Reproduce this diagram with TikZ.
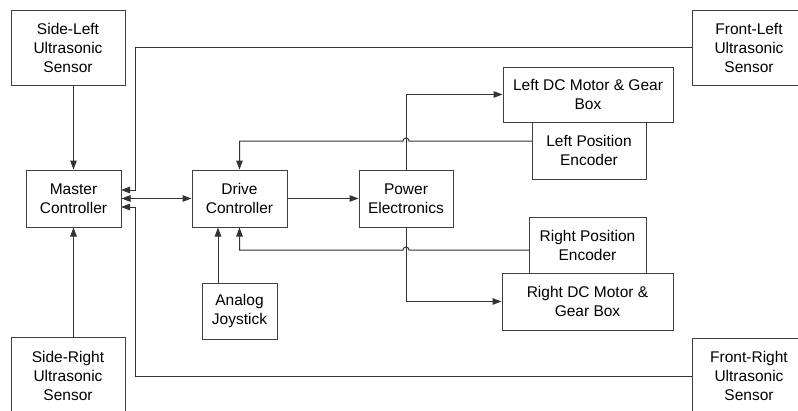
\documentclass[tikz,border=0pt]{standalone}
\usepackage{fontspec}
\setmainfont{Liberation Sans}
\usetikzlibrary{arrows.meta}
\begin{document}
\begin{tikzpicture}[x=1pt,y=1pt,
  blk/.style={draw=black!75, line width=1pt, align=center, inner sep=0pt,
    font=\fontsize{15.5}{19}\selectfont},
  conn/.style={draw=black!80, line width=1pt},
  arr/.style={conn, -{Triangle[length=9pt,width=6.5pt]}},
  arrb/.style={conn, {Triangle[length=9pt,width=6.5pt]}-{Triangle[length=9pt,width=6.5pt]}}]
\useasboundingbox (0,0) rectangle (798,-410);
\clip (0,0) rectangle (798,-410);
\fill[white] (0,0) rectangle (798,-410);

\node[blk, minimum width=114pt, minimum height=75pt] (SL) at (68,-47.5) {Side-Left\\Ultrasonic\\Sensor};
\node[blk, minimum width=95pt, minimum height=57pt] (MC) at (73.5,-198.5) {Master\\Controller};
\node[blk, minimum width=114pt, minimum height=78pt] (SR) at (68,-376) {Side-Right\\Ultrasonic\\Sensor};
\node[blk, minimum width=114pt, minimum height=75pt] (FL) at (749,-47.5) {Front-Left\\Ultrasonic\\Sensor};
\node[blk, minimum width=114pt, minimum height=76pt] (FR) at (749,-376) {Front-Right\\Ultrasonic\\Sensor};
\node[blk, minimum width=95pt, minimum height=57pt] (DC) at (239.5,-198.5) {Drive\\Controller};
\node[blk, minimum width=75pt, minimum height=56pt] (AJ) at (239.5,-311) {Analog\\Joystick};
\node[blk, minimum width=94pt, minimum height=57pt] (PE) at (406,-198.5) {Power\\Electronics};
\node[blk, minimum width=170pt, minimum height=55pt] (LM) at (588,-94.5) {Left DC Motor \& Gear\\Box};
\node[blk, minimum width=114pt, minimum height=57pt] (LE) at (589,-150.5) {Left Position\\Encoder};
\node[blk, minimum width=117pt, minimum height=56pt] (RE) at (587.5,-245) {Right Position\\Encoder};
\node[blk, minimum width=171pt, minimum height=57pt] (RM) at (587.5,-301.5) {Right DC Motor \&\\Gear Box};

\coordinate (busx) at (135,0);
\coordinate (mcA) at (121,-190);
\coordinate (mcC) at (121,-207);
\coordinate (leA) at (532,-141);
\coordinate (reA) at (529,-250);
\coordinate (ajx) at (218,0);

\draw[arr] (SL.south -| MC.north) -- (MC.north);
\draw[arr] (SR.north -| MC.south) -- (MC.south);
\draw[arr] (FL.west) -- (FL.west -| busx) -- (busx |- mcA) -- (mcA);
\draw[arr] (FR.west) -- (FR.west -| busx) -- (busx |- mcC) -- (mcC);
\draw[arrb] (MC.east) -- (DC.west);
\draw[arr] (DC.east) -- (PE.west);
\draw[arr] (PE.north) |- (LM.west);
\draw[arr] (PE.south) |- (RM.west);
\draw[arr] (leA) -- (409,-141) arc[start angle=0,end angle=180,radius=3] -- (DC.north |- leA) -- (DC.north);
\draw[arr] (reA) -- (409,-250) arc[start angle=0,end angle=180,radius=3] -- (DC.south |- reA) -- (DC.south);
\draw[arr] (AJ.north -| ajx) -- (DC.south -| ajx);
\end{tikzpicture}
\end{document}
